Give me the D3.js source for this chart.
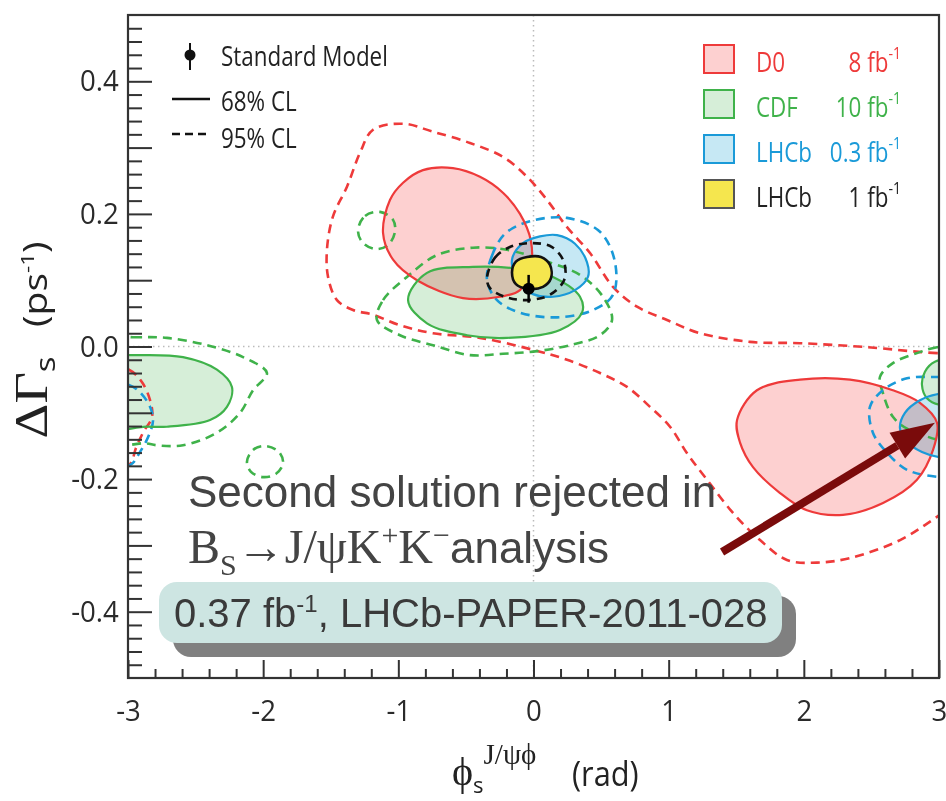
<!DOCTYPE html>
<html>
<head>
<meta charset="utf-8">
<script src="https://cdn.jsdelivr.net/npm/d3@7"></script>
<style>
  body { margin: 0; background: #fff; }
  svg { display: block; }
</style>
</head>
<body>
<script>
// axis ticks
const xMajor = [-3, -2, -1, 0, 1, 2, 3];
const yMajor = [-0.4, -0.2, 0.0, 0.2, 0.4];

// Standard Model point [phi_s, dGamma_s, error]
const smPoint = [-0.036, 0.087, 0.021];

// D0 8 fb-1
const d0_68_main = [[-0.596,0.269],[-0.818,0.266],[-0.965,0.247],[-1.062,0.221],[-1.113,0.171],[-1.039,0.131],[-0.862,0.100],[-0.522,0.073],[-0.248,0.075],[-0.100,0.085],[-0.020,0.120],[-0.020,0.160],[-0.100,0.200],[-0.226,0.232],[-0.396,0.256]];
const d0_68_mirror = [[1.506,-0.111],[1.653,-0.066],[1.972,-0.050],[2.342,-0.050],[2.658,-0.066],[2.859,-0.085],[2.985,-0.115],[2.956,-0.156],[2.837,-0.201],[2.586,-0.236],[2.290,-0.254],[2.023,-0.247],[1.824,-0.221],[1.624,-0.182],[1.528,-0.145]];
const d0_95 = [[3.25,-0.010],[2.985,-0.010],[2.467,-0.001],[1.972,0.005],[1.602,0.007],[1.232,0.020],[0.988,0.040],[0.766,0.060],[0.588,0.090],[0.418,0.141],[0.248,0.180],[0.100,0.221],[-0.048,0.256],[-0.226,0.286],[-0.470,0.307],[-0.744,0.324],[-0.965,0.336],[-1.187,0.327],[-1.284,0.292],[-1.380,0.241],[-1.484,0.196],[-1.528,0.146],[-1.520,0.105],[-1.454,0.070],[-1.335,0.055],[-1.187,0.048],[-0.988,0.032],[-0.744,0.020],[-0.396,0.013],[-0.004,-0.005],[0.248,-0.020],[0.492,-0.040],[0.692,-0.061],[0.862,-0.091],[1.010,-0.121],[1.136,-0.161],[1.284,-0.201],[1.476,-0.251],[1.676,-0.292],[1.875,-0.322],[2.097,-0.326],[2.342,-0.319],[2.712,-0.292],[2.985,-0.257],[3.25,-0.22],[3.35,-0.12]];
const d0_95_wrap = [[-3.25,-0.028],[-2.993,-0.035],[-2.896,-0.054],[-2.837,-0.081],[-2.822,-0.106],[-2.889,-0.130],[-2.941,-0.153],[-2.993,-0.179],[-3.25,-0.186]];

// CDF 10 fb-1
const cdf_68_main = [[-0.928,0.070],[-0.788,0.111],[-0.448,0.120],[-0.152,0.118],[0.144,0.105],[0.344,0.075],[0.359,0.051],[0.196,0.025],[-0.196,0.013],[-0.492,0.017],[-0.788,0.035]];
const cdf_68_left = [[-3.25,-0.013],[-2.985,-0.013],[-2.593,-0.016],[-2.342,-0.035],[-2.231,-0.061],[-2.268,-0.091],[-2.393,-0.111],[-2.712,-0.121],[-2.860,-0.121],[-3.25,-0.121]];
const cdf_68_right = [[3.2,-0.020],[2.970,-0.023],[2.896,-0.038],[2.874,-0.058],[2.911,-0.078],[3.007,-0.088],[3.2,-0.085]];
const cdf_95_main = [[-1.158,0.040],[-1.113,0.070],[-0.936,0.105],[-0.714,0.138],[-0.448,0.149],[-0.196,0.146],[0.070,0.130],[0.344,0.108],[0.514,0.075],[0.581,0.040],[0.492,0.017],[0.270,0.002],[0.026,-0.007],[-0.226,-0.011],[-0.470,-0.013],[-0.744,0.002],[-0.988,0.017]];
const cdf_95_islandA = [[-1.298,0.176],[-1.246,0.197],[-1.136,0.203],[-1.039,0.191],[-1.025,0.173],[-1.076,0.153],[-1.173,0.147],[-1.269,0.158]];
const cdf_95_islandB = [[-2.120,-0.174],[-2.075,-0.156],[-1.986,-0.150],[-1.883,-0.159],[-1.853,-0.176],[-1.905,-0.192],[-2.001,-0.197],[-2.090,-0.189]];
const cdf_95_left = [[-3.25,0.014],[-2.963,0.014],[-2.712,0.013],[-2.416,0.002],[-2.149,-0.016],[-1.972,-0.040],[-2.075,-0.066],[-2.171,-0.100],[-2.342,-0.130],[-2.593,-0.149],[-2.786,-0.149],[-2.874,-0.146],[-3.25,-0.146]];
const cdf_95_right = [[3.25,0.002],[2.985,-0.001],[2.837,-0.010],[2.659,-0.025],[2.563,-0.046],[2.585,-0.070],[2.659,-0.106],[2.785,-0.126],[3.25,-0.141]];

// LHCb 0.3 fb-1
const lhcb03_68_main = [[-0.159,0.131],[-0.078,0.156],[0.048,0.166],[0.174,0.168],[0.307,0.155],[0.396,0.127],[0.403,0.105],[0.307,0.085],[0.144,0.075],[-0.004,0.079],[-0.115,0.097]];
const lhcb03_68_right = [[3.25,-0.070],[2.985,-0.072],[2.859,-0.081],[2.748,-0.100],[2.711,-0.123],[2.763,-0.144],[2.874,-0.159],[3.007,-0.167],[3.25,-0.168]];
const lhcb03_95_main = [[-0.344,0.100],[-0.307,0.137],[-0.211,0.170],[-0.026,0.189],[0.248,0.194],[0.492,0.173],[0.603,0.127],[0.588,0.078],[0.440,0.055],[0.174,0.044],[-0.100,0.051],[-0.270,0.070]];
const lhcb03_95_right = [[3.25,-0.044],[3.007,-0.046],[2.763,-0.048],[2.585,-0.066],[2.489,-0.091],[2.511,-0.130],[2.615,-0.160],[2.763,-0.186],[3.007,-0.197],[3.25,-0.198]];
const lhcb03_95_wrap = [[-3.25,-0.055],[-2.993,-0.058],[-2.911,-0.069],[-2.837,-0.091],[-2.815,-0.112],[-2.852,-0.137],[-2.911,-0.159],[-2.985,-0.179],[-3.25,-0.183]];

// LHCb 1 fb-1
const lhcb1_68 = [[-0.159,0.112],[-0.130,0.128],[-0.048,0.135],[0.055,0.135],[0.122,0.123],[0.129,0.103],[0.070,0.090],[-0.041,0.087],[-0.130,0.094]];
const lhcb1_95 = [[-0.344,0.103],[-0.285,0.134],[-0.174,0.150],[-0.026,0.156],[0.137,0.150],[0.226,0.127],[0.226,0.100],[0.122,0.078],[-0.048,0.070],[-0.211,0.075],[-0.322,0.088]];

// legend
const legendNames = ["D0", "CDF", "LHCb", "LHCb"];
const legendLumi = ["8 fb", "10 fb", "0.3 fb", "1 fb"];
const legendStroke = ["#ee3a3a", "#3fb24a", "#1a9ad8", "#555"];
const legendFill = ["#fdd0d0", "#d6eed8", "#c6e8f4", "#f5e64e"];
const legendText = ["#ee3a3a", "#3fb24a", "#1a9ad8", "#222"];

// arrow: second solution
const arrowFrom = [1.395, -0.310];
const arrowTo = [2.970, -0.115];

const W = 946, H = 801;
const cond = "'Open Sans', 'Noto Sans', sans-serif";
const sans = "'Liberation Sans', Arial, sans-serif";
const serif = "'Liberation Serif', 'DejaVu Serif', serif";

// squeeze a text horizontally around its anchor point (original font is condensed)
function squeeze(t, k) {
  const x0 = +t.attr("x"), y0 = +t.attr("y");
  t.attr("x", 0).attr("y", 0)
    .attr("transform", `translate(${x0},${y0}) scale(${k},1)`);
  return t;
}

const svg = d3.select("body").append("svg")
  .attr("width", W).attr("height", H);

const x = d3.scaleLinear().domain([-3, 3]).range([128, 939]);
const y = d3.scaleLinear().domain([-0.5, 0.5]).range([678, 15]);

svg.append("clipPath").attr("id", "frame")
  .append("rect")
  .attr("x", x(-3)).attr("y", y(0.5))
  .attr("width", x(3) - x(-3)).attr("height", y(-0.5) - y(0.5));

// dotted zero lines
svg.append("line")
  .attr("x1", x(-3)).attr("x2", x(3)).attr("y1", y(0)).attr("y2", y(0))
  .attr("stroke", "#bbb").attr("stroke-width", 1.5).attr("stroke-dasharray", "1.5,3.5");
svg.append("line")
  .attr("x1", x(0)).attr("x2", x(0)).attr("y1", y(0.5)).attr("y2", y(-0.5))
  .attr("stroke", "#bbb").attr("stroke-width", 1.5).attr("stroke-dasharray", "1.5,3.5");

const closed = d3.line()
  .x(d => x(d[0])).y(d => y(d[1]))
  .curve(d3.curveCatmullRomClosed.alpha(0.5));

const plot = svg.append("g").attr("clip-path", "url(#frame)");

// fills of 68% regions, multiplied so overlaps darken like the original
const fills = [
  [d0_68_main, legendFill[0]], [d0_68_mirror, legendFill[0]],
  [cdf_68_main, legendFill[1]], [cdf_68_left, legendFill[1]], [cdf_68_right, legendFill[1]],
  [lhcb03_68_main, legendFill[2]], [lhcb03_68_right, legendFill[2]]
];
fills.forEach(function (f) {
  plot.append("path")
    .attr("d", closed(f[0]))
    .attr("fill", f[1])
    .style("mix-blend-mode", "multiply");
});

// 95% contours
const dashed = [
  [d0_95, legendStroke[0]], [d0_95_wrap, legendStroke[0]],
  [cdf_95_main, legendStroke[1]], [cdf_95_islandA, legendStroke[1]], [cdf_95_islandB, legendStroke[1]],
  [cdf_95_left, legendStroke[1]], [cdf_95_right, legendStroke[1]],
  [lhcb03_95_main, legendStroke[2]], [lhcb03_95_right, legendStroke[2]], [lhcb03_95_wrap, legendStroke[2]]
];
dashed.forEach(function (f) {
  plot.append("path")
    .attr("d", closed(f[0]))
    .attr("fill", "none")
    .attr("stroke", f[1])
    .attr("stroke-width", 2.6)
    .attr("stroke-dasharray", "9,6");
});

// 68% outlines
fills.forEach(function (f, i) {
  const col = i < 2 ? legendStroke[0] : (i < 5 ? legendStroke[1] : legendStroke[2]);
  plot.append("path")
    .attr("d", closed(f[0]))
    .attr("fill", "none")
    .attr("stroke", col)
    .attr("stroke-width", 2.2);
});

// LHCb 1 fb-1
plot.append("path")
  .attr("d", closed(lhcb1_68))
  .attr("fill", legendFill[3])
  .attr("stroke", "#111")
  .attr("stroke-width", 2.6);
plot.append("path")
  .attr("d", closed(lhcb1_95))
  .attr("fill", "none")
  .attr("stroke", "#111")
  .attr("stroke-width", 2.6)
  .attr("stroke-dasharray", "8,6");

// Standard Model
plot.append("line")
  .attr("x1", x(smPoint[0])).attr("x2", x(smPoint[0]))
  .attr("y1", y(smPoint[1] - smPoint[2])).attr("y2", y(smPoint[1] + smPoint[2]))
  .attr("stroke", "#000").attr("stroke-width", 2.5);
plot.append("circle")
  .attr("cx", x(smPoint[0])).attr("cy", y(smPoint[1]))
  .attr("r", 6).attr("fill", "#000");

// frame and axes
svg.append("rect")
  .attr("x", x(-3)).attr("y", y(0.5))
  .attr("width", x(3) - x(-3)).attr("height", y(-0.5) - y(0.5))
  .attr("fill", "none").attr("stroke", "#333").attr("stroke-width", 2.2);

const xMinor = d3.range(-3, 3.001, 0.2).map(v => +v.toFixed(1)).filter(v => !Number.isInteger(v));
const yMid = [-0.3, -0.1, 0.1, 0.3];
const yMinor = d3.range(-0.5, 0.5001, 0.02).map(v => +v.toFixed(2))
  .filter(v => Math.abs(Math.round(v * 10) - v * 10) > 1e-6);

svg.append("g").attr("transform", `translate(0,${y(-0.5)})`)
  .call(d3.axisBottom(x).tickValues(xMajor).tickSize(-18).tickPadding(22)
    .tickFormat(d => String(d)));
svg.append("g").attr("transform", `translate(0,${y(-0.5)})`)
  .call(d3.axisBottom(x).tickValues(xMinor).tickSize(-9).tickFormat(""));

svg.append("g").attr("transform", `translate(${x(-3)},0)`)
  .call(d3.axisLeft(y).tickValues(yMajor).tickSize(-24).tickPadding(10)
    .tickFormat(d => d.toFixed(1)));
svg.append("g").attr("transform", `translate(${x(-3)},0)`)
  .call(d3.axisLeft(y).tickValues(yMid).tickSize(-24).tickFormat(""));
svg.append("g").attr("transform", `translate(${x(-3)},0)`)
  .call(d3.axisLeft(y).tickValues(yMinor).tickSize(-14).tickFormat(""));

svg.selectAll(".domain").remove();
svg.selectAll(".tick line").attr("stroke", "#333").attr("stroke-width", 2);
svg.selectAll(".tick text")
  .attr("font-family", cond).attr("font-size", 30).attr("fill", "#2a2a2a")
  .attr("transform", "scale(0.92,1)");

// axis titles (stretched along the text, like the source image)
const yt = svg.append("text")
  .attr("transform", "translate(47,340) rotate(-90) scale(1.18,1)")
  .attr("text-anchor", "middle")
  .attr("fill", "#222");
yt.append("tspan").attr("font-family", serif).attr("font-size", 46).text("ΔΓ");
yt.append("tspan").attr("font-family", cond).attr("font-size", 28).attr("dy", 8).text("s");
yt.append("tspan").attr("font-family", cond).attr("font-size", 33).attr("dy", -8).text("\u2002 (ps");
yt.append("tspan").attr("font-family", cond).attr("font-size", 19).attr("dy", -13).text("-1");
yt.append("tspan").attr("font-family", cond).attr("font-size", 33).attr("dy", 13).text(")");

const xt = svg.append("text").attr("x", 452).attr("y", 785).attr("fill", "#222");
xt.append("tspan").attr("font-family", serif).attr("font-size", 40).text("ϕ");
xt.append("tspan").attr("font-family", cond).attr("font-size", 22).attr("dy", 8).text("s");
xt.append("tspan").attr("font-family", serif).attr("font-size", 29).attr("dy", -29).text("J/ψϕ");
squeeze(svg.append("text").attr("x", 572).attr("y", 786)
  .attr("font-family", cond).attr("font-size", 35).attr("fill", "#222").text("(rad)"), 0.88);

// left legend
const leg = svg.append("g");
leg.append("line").attr("x1", 190).attr("x2", 190).attr("y1", 43).attr("y2", 70)
  .attr("stroke", "#111").attr("stroke-width", 2);
leg.append("circle").attr("cx", 190).attr("cy", 55).attr("r", 5.5).attr("fill", "#111");
leg.append("line").attr("x1", 172).attr("x2", 210).attr("y1", 99).attr("y2", 99)
  .attr("stroke", "#111").attr("stroke-width", 2.5);
leg.append("line").attr("x1", 172).attr("x2", 210).attr("y1", 134).attr("y2", 134)
  .attr("stroke", "#111").attr("stroke-width", 2.5).attr("stroke-dasharray", "8,5");
["Standard Model", "68% CL", "95% CL"].forEach(function (t, i) {
  squeeze(leg.append("text").attr("x", 221).attr("y", [66, 111, 148][i])
    .attr("font-family", cond).attr("font-size", 27).attr("fill", "#222").text(t), 0.83);
});

// right legend
legendNames.forEach(function (name, i) {
  const top = 45 + i * 45;
  svg.append("rect").attr("x", 704).attr("y", top).attr("width", 30).attr("height", 28)
    .attr("fill", legendFill[i]).attr("stroke", legendStroke[i]).attr("stroke-width", 2);
  squeeze(svg.append("text").attr("x", 756).attr("y", top + 27)
    .attr("font-family", cond).attr("font-size", 27).attr("fill", legendText[i]).text(name), 0.83);
  const t = svg.append("text").attr("x", 901).attr("y", top + 27).attr("text-anchor", "end")
    .attr("font-family", cond).attr("font-size", 27).attr("fill", legendText[i]);
  t.append("tspan").text(legendLumi[i]);
  t.append("tspan").attr("font-size", 17).attr("dy", -13).text("-1");
  squeeze(t, 0.83);
});

// annotation
svg.append("text").attr("x", 188).attr("y", 507)
  .attr("font-family", sans).attr("font-size", 44).attr("fill", "#444")
  .text("Second solution rejected in");
const l2 = svg.append("text").attr("x", 188).attr("y", 563).attr("fill", "#444");
l2.append("tspan").attr("font-family", serif).attr("font-size", 48).text("B");
l2.append("tspan").attr("font-family", serif).attr("font-size", 30).attr("dy", 12).text("S");
l2.append("tspan").attr("font-family", serif).attr("font-size", 48).attr("dy", -12).text("→J/ψK");
l2.append("tspan").attr("font-family", serif).attr("font-size", 30).attr("dy", -18).text("+");
l2.append("tspan").attr("font-family", serif).attr("font-size", 48).attr("dy", 18).text("K");
l2.append("tspan").attr("font-family", serif).attr("font-size", 30).attr("dy", -18).text("−");
l2.append("tspan").attr("font-family", sans).attr("font-size", 44).attr("dy", 18).text("analysis");

// arrow
const ax0 = x(arrowFrom[0]), ay0 = y(arrowFrom[1]), ax1 = x(arrowTo[0]), ay1 = y(arrowTo[1]);
const ang = Math.atan2(ay1 - ay0, ax1 - ax0);
const headL = 44, headW = 15;
const bx = ax1 - headL * Math.cos(ang), by = ay1 - headL * Math.sin(ang);
svg.append("line").attr("x1", ax0).attr("y1", ay0).attr("x2", bx).attr("y2", by)
  .attr("stroke", "#7a0b0b").attr("stroke-width", 8);
svg.append("path")
  .attr("d", d3.line()([
    [ax1, ay1],
    [bx - headW * Math.sin(ang), by + headW * Math.cos(ang)],
    [bx + headW * Math.sin(ang), by - headW * Math.cos(ang)]
  ]) + "Z")
  .attr("fill", "#7a0b0b");

// reference box
svg.append("rect").attr("x", 173).attr("y", 596).attr("width", 623).attr("height", 61)
  .attr("rx", 18).attr("fill", "#808080");
svg.append("rect").attr("x", 159).attr("y", 582).attr("width", 623).attr("height", 61)
  .attr("rx", 18).attr("fill", "#cde5e2");
const bt = svg.append("text").attr("x", 174).attr("y", 627)
  .attr("font-family", sans).attr("font-size", 40).attr("fill", "#3a3a3a");
bt.append("tspan").text("0.37 fb");
bt.append("tspan").attr("font-size", 24).attr("dy", -15).text("-1");
bt.append("tspan").attr("dy", 15).text(", LHCb-PAPER-2011-028");
</script>
</body>
</html>
